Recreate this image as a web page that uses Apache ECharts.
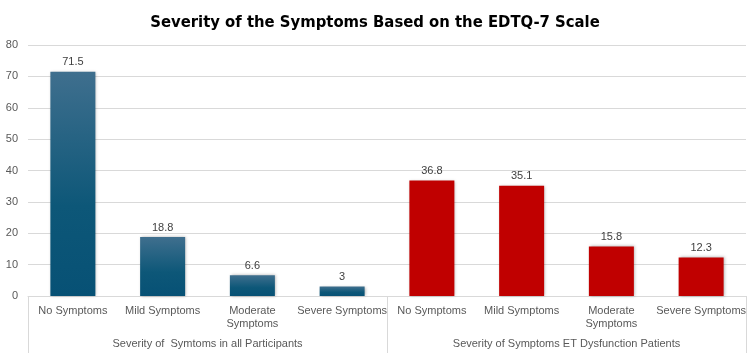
<!DOCTYPE html>
<html>
<head>
    <meta charset="utf-8">
    <title>EDTQ-7</title>
    <script src="https://cdn.jsdelivr.net/npm/echarts@6/dist/echarts.min.js"></script>
</head>
<body style="margin:0">
    <div id="main" style="width:750px;height:353px;"></div>
    <script type="text/javascript">
        // data
        var categories = ['No Symptoms', 'Mild Symptoms', 'Moderate\nSymptoms', 'Severe Symptoms',
            'No Symptoms', 'Mild Symptoms', 'Moderate\nSymptoms', 'Severe Symptoms'];
        var groups = ['Severity of  Symtoms in all Participants', 'Severity of Symptoms ET Dysfunction Patients'];
        var allParticipants = [71.5, 18.8, 6.6, 3];
        var etPatients = [36.8, 35.1, 15.8, 12.3];

        var blue = {
            type: 'linear', x: 0, y: 0, x2: 0, y2: 1,
            colorStops: [{ offset: 0, color: '#3f6f8e' }, { offset: 0.6, color: '#0d5778' }, { offset: 1, color: '#075175' }]
        };
        var red = '#c00000';

        var barData = [];
        allParticipants.forEach(function (v) { barData.push({ value: v, itemStyle: { color: blue } }); });
        etPatients.forEach(function (v) { barData.push({ value: v, itemStyle: { color: red } }); });

        var labelFont = 'Liberation Sans';
        var myChart = echarts.init(document.getElementById('main'));
        var option = {
            animation: false,
            title: {
                text: 'Severity of the Symptoms Based on the EDTQ-7 Scale',
                left: 'center',
                top: 9,
                textStyle: {
                    fontFamily: '"DejaVu Sans Condensed", sans-serif',
                    fontWeight: 'bold',
                    fontSize: 16.5,
                    color: '#000'
                }
            },
            grid: { left: 28, right: 4, top: 45, bottom: 57 },
            xAxis: [
                {
                    type: 'category',
                    data: categories,
                    axisLine: { lineStyle: { color: '#d9d9d9' } },
                    axisTick: { show: false },
                    axisLabel: {
                        interval: 0, margin: 8, color: '#595959',
                        fontFamily: labelFont, fontSize: 11, lineHeight: 13
                    }
                },
                {
                    type: 'category',
                    position: 'bottom',
                    data: groups,
                    axisLine: { show: false },
                    axisTick: { show: true, length: 57, lineStyle: { color: '#d9d9d9' } },
                    axisLabel: {
                        interval: 0, margin: 42, color: '#595959',
                        fontFamily: labelFont, fontSize: 11
                    }
                }
            ],
            yAxis: {
                type: 'value',
                min: 0,
                max: 80,
                interval: 10,
                axisLine: { show: false },
                axisTick: { show: false },
                splitLine: { lineStyle: { color: '#d9d9d9' } },
                axisLabel: { color: '#595959', fontFamily: labelFont, fontSize: 11, margin: 10 }
            },
            series: [
                {
                    type: 'bar',
                    xAxisIndex: 0,
                    barWidth: 45,
                    data: barData,
                    itemStyle: { shadowBlur: 3, shadowColor: 'rgba(0,0,0,0.3)', shadowOffsetX: 1 },
                    label: {
                        show: true, position: 'top', distance: 4,
                        color: '#404040', fontFamily: labelFont, fontSize: 11
                    }
                }
            ]
        };
        myChart.setOption(option);
    </script>
</body>
</html>
